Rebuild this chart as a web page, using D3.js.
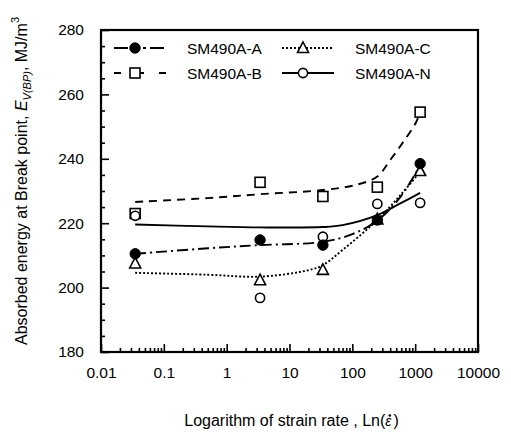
<!DOCTYPE html>
<html>
<head>
<meta charset="utf-8">
<script src="https://cdn.jsdelivr.net/npm/d3@7"></script>
<style>
  body { margin: 0; background: #fff; }
  svg text { font-family: "Liberation Sans", Arial, sans-serif; fill: #000; }
</style>
</head>
<body>
<div id="chart"></div>
<script>
// strain rates of the five test columns
var rates = [0.035, 3.4, 34, 250, 1200];

// measured points
var seriesA = [210.5, 214.8, 213.2, 221, 238.5];
var seriesB = [223, 232.7, 228.3, 231.2, 254.5];
var seriesC = [207.5, 202.3, 205.5, 221.2, 236.2];
var seriesN = [222.3, 196.8, 215.8, 226, 226.3];

// fitted curves
var curveA = [[0.035, 210.5], [0.5, 212.2], [3.4, 213.2], [34, 214.2], [100, 216.6], [250, 220.8], [600, 228.5], [1200, 238]];
var curveB = [[0.035, 226.6], [0.5, 227.8], [3.4, 229], [34, 230.3], [120, 232], [250, 234.5], [400, 239.6], [650, 245.3], [1000, 250.8], [1200, 254.3]];
var curveC = [[0.035, 204.6], [0.5, 204], [3.4, 203.4], [20, 205.4], [34, 207], [70, 211.7], [250, 221], [600, 229], [1200, 236]];
var curveN = [[0.035, 219.6], [0.5, 219], [3.4, 218.7], [34, 218.8], [70, 219.4], [250, 222.5], [600, 226.3], [1200, 229.4]];

var xTicks = [0.01, 0.1, 1, 10, 100, 1000, 10000];
var xTickLabels = ["0.01", "0.1", "1", "10", "100", "1000", "10000"];
var yTicks = [180, 200, 220, 240, 260, 280];

var svgWidth = 511;
var svgHeight = 438;

var margin = { top: 30, right: 33, bottom: 86, left: 101 };
var width = svgWidth - margin.left - margin.right;
var height = svgHeight - margin.top - margin.bottom;

var svg = d3.select("#chart")
  .append("svg")
  .attr("width", svgWidth)
  .attr("height", svgHeight);

var chartGroup = svg.append("g")
  .attr("transform", `translate(${margin.left}, ${margin.top})`);

var xScale = d3.scaleLog()
  .domain([0.01, 10000])
  .range([0, width]);

var yScale = d3.scaleLinear()
  .domain([180, 280])
  .range([height, 0]);

// minor ticks
var xMinor = [];
xTicks.slice(0, -1).forEach(function(t) {
  for (var k = 2; k <= 9; k++) xMinor.push(t * k);
});
var yMinor = d3.range(180, 281, 5).filter(d => d % 20 !== 0);

// axes with inward ticks
var bottomAxis = d3.axisBottom(xScale)
  .tickValues(xTicks)
  .tickFormat((d, i) => xTickLabels[i])
  .tickSize(-8)
  .tickPadding(15);

var bottomMinor = d3.axisBottom(xScale)
  .tickValues(xMinor)
  .tickFormat("")
  .tickSize(-4);

var leftAxis = d3.axisLeft(yScale)
  .tickValues(yTicks)
  .tickFormat(d3.format("d"))
  .tickSize(-8)
  .tickPadding(17);

var leftMinor = d3.axisLeft(yScale)
  .tickValues(yMinor)
  .tickFormat("")
  .tickSize(-4);

function styleAxis(g) {
  g.select(".domain").remove();
  g.selectAll("line").attr("stroke", "#000").attr("stroke-width", 1.6);
  g.selectAll("text").attr("font-size", "15.5px").attr("fill", "#000");
}

chartGroup.append("g")
  .attr("transform", `translate(0, ${height})`)
  .call(bottomAxis)
  .call(styleAxis);

chartGroup.append("g")
  .attr("transform", `translate(0, ${height})`)
  .call(bottomMinor)
  .call(styleAxis);

chartGroup.append("g")
  .call(leftAxis)
  .call(styleAxis);

chartGroup.append("g")
  .call(leftMinor)
  .call(styleAxis);

// frame
chartGroup.append("rect")
  .attr("x", 0)
  .attr("y", 0)
  .attr("width", width)
  .attr("height", height)
  .attr("fill", "none")
  .attr("stroke", "#000")
  .attr("stroke-width", 2.2);

// fitted curves
var line = d3.line()
  .x(d => xScale(d[0]))
  .y(d => yScale(d[1]))
  .curve(d3.curveCatmullRom);

var styles = {
  A: { dash: "11,4,2,4", curve: curveA, pts: seriesA, marker: "filled" },
  B: { dash: "8,6", curve: curveB, pts: seriesB, marker: "square" },
  C: { dash: "2,2", curve: curveC, pts: seriesC, marker: "triangle" },
  N: { dash: null, curve: curveN, pts: seriesN, marker: "circle" }
};

Object.keys(styles).forEach(function(key) {
  var s = styles[key];
  chartGroup.append("path")
    .datum(s.curve)
    .attr("d", line)
    .attr("fill", "none")
    .attr("stroke", "#000")
    .attr("stroke-width", 1.9)
    .attr("stroke-dasharray", s.dash);
});

function drawMarker(g, type, x, y) {
  if (type === "filled") {
    g.append("circle").attr("cx", x).attr("cy", y).attr("r", 5.2)
      .attr("fill", "#000").attr("stroke", "#000");
  } else if (type === "circle") {
    g.append("circle").attr("cx", x).attr("cy", y).attr("r", 4.6)
      .attr("fill", "#fff").attr("stroke", "#000").attr("stroke-width", 1.6);
  } else if (type === "square") {
    g.append("rect").attr("x", x - 5).attr("y", y - 5).attr("width", 10).attr("height", 10)
      .attr("fill", "#fff").attr("stroke", "#000").attr("stroke-width", 1.6);
  } else if (type === "triangle") {
    g.append("path")
      .attr("d", `M${x},${y - 6}L${x + 5.5},${y + 4.5}L${x - 5.5},${y + 4.5}Z`)
      .attr("fill", "#fff").attr("stroke", "#000").attr("stroke-width", 1.6);
  }
}

var markerGroup = chartGroup.append("g");
["B", "N", "C", "A"].forEach(function(key) {
  var s = styles[key];
  s.pts.forEach(function(v, i) {
    drawMarker(markerGroup, s.marker, xScale(rates[i]), yScale(v));
  });
});

// legend
var legendItems = [
  { key: "A", label: "SM490A-A", col: 0, row: 0 },
  { key: "C", label: "SM490A-C", col: 1, row: 0 },
  { key: "B", label: "SM490A-B", col: 0, row: 1 },
  { key: "N", label: "SM490A-N", col: 1, row: 1 }
];

var legend = chartGroup.append("g");
legendItems.forEach(function(it) {
  var s = styles[it.key];
  var lx = 13 + it.col * 168;
  var ly = 18 + it.row * 25;
  legend.append("line")
    .attr("x1", lx).attr("x2", lx + 52)
    .attr("y1", ly).attr("y2", ly)
    .attr("stroke", "#000")
    .attr("stroke-width", 1.9)
    .attr("stroke-dasharray", it.key === "B" ? "7,15,8,15" : (it.key === "A" ? "14,8,3,4,3,4" : s.dash));
  drawMarker(legend, s.marker, lx + 21, ly);
  legend.append("text")
    .attr("x", lx + 73)
    .attr("y", ly + 5.5)
    .attr("font-size", "15.5px")
    .text(it.label);
});

// axis titles
var xTitleStart = "Logarithm of strain rate , Ln(";
var xTitle = chartGroup.append("text")
  .attr("x", width / 2 + 2)
  .attr("y", height + 74)
  .attr("text-anchor", "middle")
  .attr("font-size", "16px");

xTitle.append("tspan").text(xTitleStart);
xTitle.append("tspan")
  .attr("font-style", "italic")
  .attr("font-size", "14px")
  .text("\u03B5");
xTitle.append("tspan")
  .attr("dx", 2)
  .text(")");

// dot above epsilon (time derivative)
var epsBox = xTitle.node().getExtentOfChar(xTitleStart.length);
chartGroup.append("circle")
  .attr("cx", epsBox.x + epsBox.width / 2 + 1.5)
  .attr("cy", epsBox.y + 2.5)
  .attr("r", 1.3)
  .attr("fill", "#000");

var yTitle = svg.append("text")
  .attr("transform", `translate(27, ${margin.top + height / 2 - 10}) rotate(-90)`)
  .attr("text-anchor", "middle")
  .attr("font-size", "16px");

yTitle.append("tspan").text("Absorbed energy at Break point, ");
yTitle.append("tspan").attr("font-style", "italic").text("E");
yTitle.append("tspan").attr("font-style", "italic").attr("font-size", "11px").attr("dy", 4).text("V(BP)");
yTitle.append("tspan").attr("dy", -4).text(", MJ/m");
yTitle.append("tspan").attr("font-size", "11px").attr("dy", -8).text("3");
</script>
</body>
</html>
